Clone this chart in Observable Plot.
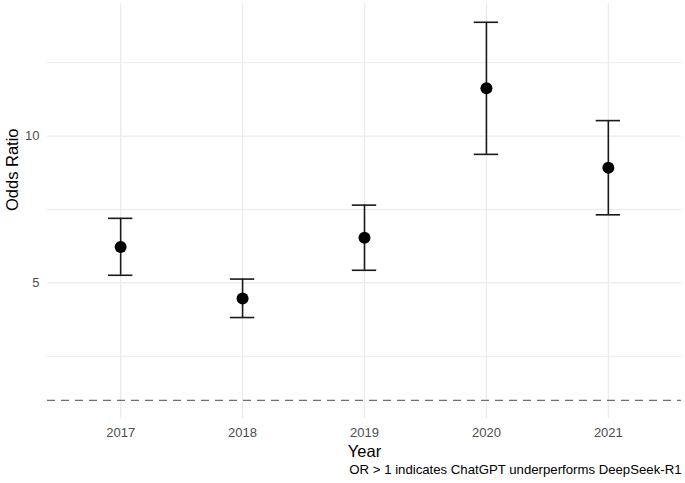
<!DOCTYPE html>
<html>
<head>
<meta charset="utf-8">
<script src="https://cdn.jsdelivr.net/npm/d3@7"></script>
<script src="https://cdn.jsdelivr.net/npm/@observablehq/plot@0.6"></script>
<style>
  html, body { margin: 0; padding: 0; background: #fff; }
  #chart svg { display: block; }
</style>
</head>
<body>
<div id="chart"></div>
<script>
const years = [2017, 2018, 2019, 2020, 2021];
const oddsRatio = [6.22, 4.47, 6.54, 11.63, 8.92];
const lower = [5.26, 3.82, 5.43, 9.38, 7.32];
const upper = [7.20, 5.13, 7.65, 13.88, 10.53];
const yMajor = [5, 10];
const yMinor = [2.5, 7.5, 12.5];
const refLine = [1];

const data = years.map((year, i) => ({year, or: oddsRatio[i], lo: lower[i], hi: upper[i]}));

const chart = Plot.plot({
  width: 685,
  height: 483,
  marginLeft: 47,
  marginRight: 4,
  marginTop: 3,
  marginBottom: 65,
  style: {background: "#fff", fontFamily: "Liberation Sans, Arial, sans-serif", overflow: "visible"},
  x: {type: "linear", domain: [2016.4, 2021.6], axis: null},
  y: {domain: [0.38, 14.52], axis: null},
  marks: [
    Plot.ruleY(yMinor, {stroke: "#ebebeb", strokeWidth: 1}),
    Plot.ruleY(yMajor, {stroke: "#ebebeb", strokeWidth: 1.3}),
    Plot.ruleX(years, {stroke: "#ebebeb", strokeWidth: 1.3}),
    Plot.ruleY(refLine, {stroke: "#6e6e6e", strokeWidth: 1.3, strokeDasharray: "8,6"}),
    Plot.axisY(yMajor, {tickSize: 0, tickPadding: 8, fontSize: 13, color: "#4d4d4d", label: null}),
    Plot.axisX(years, {tickSize: 0, tickPadding: 9, fontSize: 13, color: "#4d4d4d", tickFormat: d => String(d), label: null}),
    Plot.ruleX(data, {x: "year", y1: "lo", y2: "hi", stroke: "#1a1a1a", strokeWidth: 1.6}),
    Plot.ruleY(data, {y: "hi", x1: d => d.year - 0.1, x2: d => d.year + 0.1, stroke: "#1a1a1a", strokeWidth: 1.6}),
    Plot.ruleY(data, {y: "lo", x1: d => d.year - 0.1, x2: d => d.year + 0.1, stroke: "#1a1a1a", strokeWidth: 1.6}),
    Plot.dot(data, {x: "year", y: "or", r: 6, fill: "#000", stroke: "none"}),
    Plot.text(["Year"], {frameAnchor: "bottom", dy: 33, fontSize: 16.5, fill: "#000", lineAnchor: "middle"}),
    Plot.text(["Odds Ratio"], {frameAnchor: "left", dx: -35, rotate: -90, fontSize: 16.5, fill: "#000", lineAnchor: "middle"}),
    Plot.text(["OR > 1 indicates ChatGPT underperforms DeepSeek-R1"], {frameAnchor: "bottom-right", dy: 51, textAnchor: "end", fontSize: 13.2, fill: "#000", lineAnchor: "middle"})
  ]
});
document.getElementById("chart").appendChild(chart);
</script>
</body>
</html>
